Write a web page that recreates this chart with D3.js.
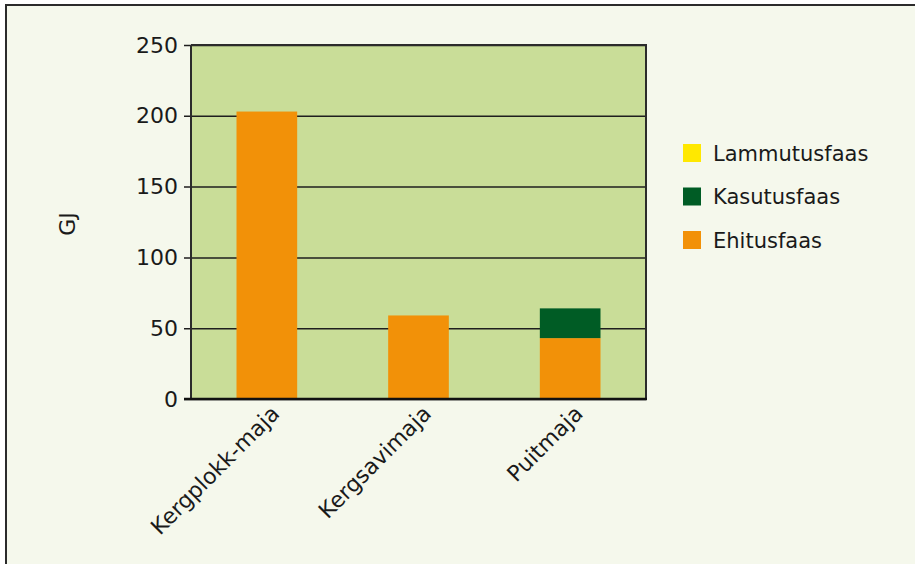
<!DOCTYPE html>
<html>
<head>
<meta charset="utf-8">
<script src="https://cdn.jsdelivr.net/npm/d3@7"></script>
<style>
  html, body { margin: 0; padding: 0; background: #ffffff; }
  svg { display: block; }
  text { font-family: "DejaVu Sans", sans-serif; fill: #1a1a1a; }
</style>
</head>
<body>
<svg id="chart" width="915" height="564"></svg>
<script>
// Energy use per house type (GJ), stacked by life-cycle phase
const categories = ["Kergplokk-maja", "Kergsavimaja", "Puitmaja"];
const ehitusfaas = [203, 59, 43];
const kasutusfaas = [0, 0, 21];
const lammutusfaas = [0, 0, 0];
const yTicks = [0, 50, 100, 150, 200, 250];
const seriesNames = ["Ehitusfaas", "Kasutusfaas", "Lammutusfaas"];
const seriesColors = { Ehitusfaas: "#f29108", Kasutusfaas: "#005c25", Lammutusfaas: "#ffe800" };
const legendOrder = ["Lammutusfaas", "Kasutusfaas", "Ehitusfaas"];

const rows = categories.map((c, i) => ({
  cat: c,
  Ehitusfaas: ehitusfaas[i],
  Kasutusfaas: kasutusfaas[i],
  Lammutusfaas: lammutusfaas[i]
}));

const svg = d3.select("#chart");

// panel background with frame on left and top
svg.append("rect").attr("x", 6).attr("y", 5).attr("width", 915).attr("height", 564)
  .attr("fill", "#f5f8ec");
svg.append("line").attr("x1", 6).attr("x2", 6).attr("y1", 4).attr("y2", 564)
  .attr("stroke", "#2b2b2b").attr("stroke-width", 2);
svg.append("line").attr("x1", 5).attr("x2", 915).attr("y1", 5).attr("y2", 5)
  .attr("stroke", "#2b2b2b").attr("stroke-width", 2);

const plot = { left: 191, right: 646, top: 45, bottom: 399 };

const x = d3.scaleBand().domain(categories)
  .range([plot.left, plot.right]).paddingInner(0.6).paddingOuter(0.3);
const y = d3.scaleLinear().domain([0, 250]).range([plot.bottom, plot.top]);

// plot area
svg.append("rect")
  .attr("x", plot.left).attr("y", plot.top)
  .attr("width", plot.right - plot.left).attr("height", plot.bottom - plot.top)
  .attr("fill", "#c9dd98");

// gridlines with outward tick stubs
const yAxis = d3.axisLeft(y).tickValues(yTicks)
  .tickSize(-(plot.right - plot.left)).tickSizeOuter(0).tickPadding(13);
const gy = svg.append("g").attr("transform", `translate(${plot.left},0)`).call(yAxis);
gy.select(".domain").remove();
gy.selectAll(".tick line")
  .attr("x1", -7)
  .attr("stroke", "#1e1e1e").attr("stroke-width", 1.5);
gy.selectAll(".tick text")
  .attr("font-size", 22).attr("fill", "#1a1a1a")
  .style("font-family", "'DejaVu Sans', sans-serif");

// stacked bars
const stack = d3.stack().keys(seriesNames);
const layers = stack(rows);
svg.append("g").selectAll("g").data(layers).join("g")
  .attr("fill", d => seriesColors[d.key])
  .selectAll("rect").data(d => d).join("rect")
  .attr("x", d => x(d.data.cat))
  .attr("width", x.bandwidth())
  .attr("y", d => y(d[1]))
  .attr("height", d => y(d[0]) - y(d[1]));

// frame: left, right, top, bottom
svg.append("path")
  .attr("d", `M${plot.left},${plot.top}H${plot.right}V${plot.bottom}`)
  .attr("fill", "none").attr("stroke", "#2b2b2b").attr("stroke-width", 2);
svg.append("line")
  .attr("x1", plot.left).attr("x2", plot.left).attr("y1", plot.top).attr("y2", plot.bottom)
  .attr("stroke", "#2b2b2b").attr("stroke-width", 2);
svg.append("line")
  .attr("x1", plot.left - 7).attr("x2", plot.right + 1).attr("y1", plot.bottom).attr("y2", plot.bottom)
  .attr("stroke", "#111").attr("stroke-width", 2.5);

// category labels, rotated
const xAxis = d3.axisBottom(x).tickSize(0).tickPadding(0);
const gx = svg.append("g").attr("transform", `translate(0,${plot.bottom})`).call(xAxis);
gx.select(".domain").remove();
gx.selectAll(".tick text")
  .attr("font-size", 22).attr("fill", "#1a1a1a")
  .style("font-family", "'DejaVu Sans', sans-serif")
  .attr("text-anchor", "end")
  .attr("dy", null).attr("y", 0)
  .attr("transform", "translate(14,16) rotate(-45)");

// y axis title
svg.append("text")
  .attr("transform", "translate(75,224) rotate(-90)")
  .attr("text-anchor", "middle")
  .attr("font-size", 22)
  .text("GJ");

// legend
const legend = svg.append("g").attr("transform", "translate(683,0)");
const legendY = d3.scalePoint().domain(legendOrder).range([153, 240]);
legendOrder.forEach(k => {
  const g = legend.append("g").attr("transform", `translate(0,${legendY(k)})`);
  g.append("rect").attr("x", 0).attr("y", -9).attr("width", 18).attr("height", 18)
    .attr("fill", seriesColors[k]);
  g.append("text").attr("x", 30).attr("y", 0).attr("dy", "0.36em")
    .attr("font-size", 21).text(k);
});
</script>
</body>
</html>
